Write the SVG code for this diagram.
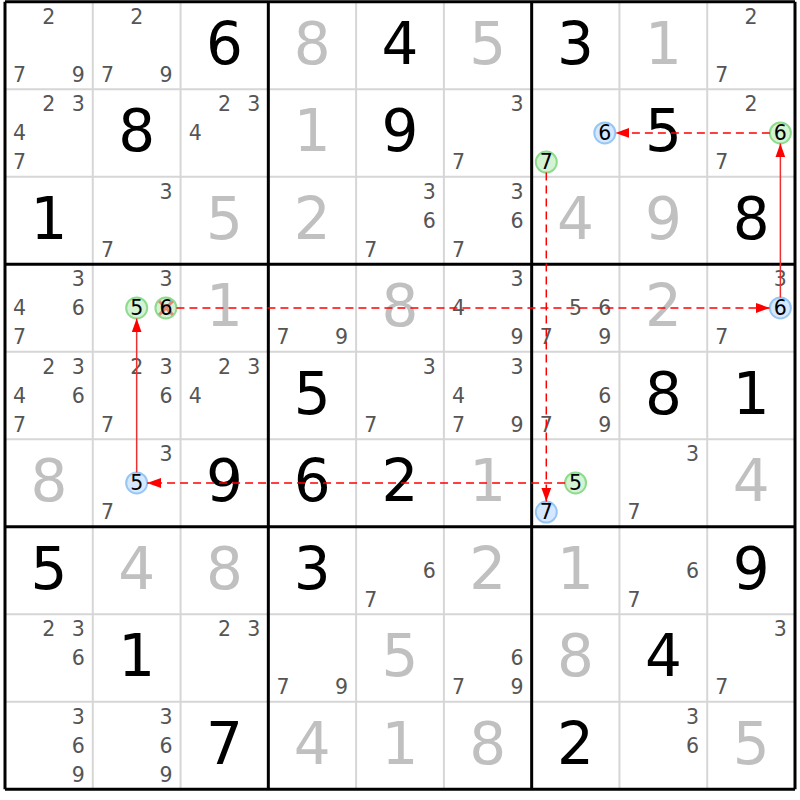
<svg xmlns="http://www.w3.org/2000/svg" width="800" height="800" viewBox="0 0 800 800">
<style>
text{font-family:"DejaVu Sans","Liberation Sans",sans-serif;text-anchor:middle}
.g{font-size:58px;fill:#000}
.p{font-size:58px;fill:#c0c0c0}
.c{font-size:20.5px;fill:#555}
.k{font-size:20.5px;fill:#000}
.thin{stroke:#d6d6d6;stroke-width:2}
.thick{stroke:#000;stroke-width:3}
.on{fill:#d3f3d3;stroke:#8edb8e;stroke-width:2}
.off{fill:#d5e8ff;stroke:#98c6f3;stroke-width:2}
.strong{stroke:#f03030;stroke-width:1.5;fill:none}
.weak{stroke:#ff0000;stroke-width:1.5;fill:none;stroke-dasharray:8 5}
</style>
<defs>
<marker id="ah" markerUnits="userSpaceOnUse" markerWidth="14" markerHeight="10" refX="14" refY="5" orient="auto">
<path d="M0,0 L14,5 L0,10 z" fill="#ff0000"/>
</marker>
</defs>
<rect width="800" height="800" fill="#fff"/>
<g id="grid">
<path class="thin" d="M92.78,1.7V789.2M180.56,1.7V789.2M356.11,1.7V789.2M443.89,1.7V789.2M619.44,1.7V789.2M707.22,1.7V789.2M5,89.2H795M5,176.7H795M5,351.7H795M5,439.2H795M5,614.2H795M5,701.7H795"/>
<path class="thick" d="M5,1.7V789.2M268.33,1.7V789.2M531.67,1.7V789.2M795,1.7V789.2M5,1.7H795M5,264.2H795M5,526.7H795M5,789.2H795"/>
</g>
<g id="r1">
<g id="r1c1"><text class="c" x="48.89" y="23.6">2</text><text class="c" x="19.63" y="81.9">7</text><text class="c" x="78.15" y="81.9">9</text></g>
<g id="r1c2"><text class="c" x="136.67" y="23.6">2</text><text class="c" x="107.41" y="81.9">7</text><text class="c" x="165.93" y="81.9">9</text></g>
<g id="r1c3"><text class="g" x="224.45" y="63.7">6</text></g>
<g id="r1c4"><text class="p" x="312.22" y="63.7">8</text></g>
<g id="r1c5"><text class="g" x="400" y="63.7">4</text></g>
<g id="r1c6"><text class="p" x="487.78" y="63.7">5</text></g>
<g id="r1c7"><text class="g" x="575.56" y="63.7">3</text></g>
<g id="r1c8"><text class="p" x="663.33" y="63.7">1</text></g>
<g id="r1c9"><text class="c" x="751.11" y="23.6">2</text><text class="c" x="721.85" y="81.9">7</text></g>
</g>
<g id="r2">
<g id="r2c1"><text class="c" x="48.89" y="111.1">2</text><text class="c" x="78.15" y="111.1">3</text><text class="c" x="19.63" y="140.3">4</text><text class="c" x="19.63" y="169.4">7</text></g>
<g id="r2c2"><text class="g" x="136.67" y="151.2">8</text></g>
<g id="r2c3"><text class="c" x="224.45" y="111.1">2</text><text class="c" x="253.71" y="111.1">3</text><text class="c" x="195.19" y="140.3">4</text></g>
<g id="r2c4"><text class="p" x="312.22" y="151.2">1</text></g>
<g id="r2c5"><text class="g" x="400" y="151.2">9</text></g>
<g id="r2c6"><text class="c" x="517.04" y="111.1">3</text><text class="c" x="458.52" y="169.4">7</text></g>
<g id="r2c7"><circle class="off" cx="604.82" cy="132.95" r="10.5"/><text class="k" x="604.82" y="140.3">6</text><circle class="on" cx="546.3" cy="162.12" r="10.5"/><text class="k" x="546.3" y="169.4">7</text></g>
<g id="r2c8"><text class="g" x="663.33" y="151.2">5</text></g>
<g id="r2c9"><text class="c" x="751.11" y="111.1">2</text><circle class="on" cx="780.37" cy="132.95" r="10.5"/><text class="k" x="780.37" y="140.3">6</text><text class="c" x="721.85" y="169.4">7</text></g>
</g>
<g id="r3">
<g id="r3c1"><text class="g" x="48.89" y="238.7">1</text></g>
<g id="r3c2"><text class="c" x="165.93" y="198.6">3</text><text class="c" x="107.41" y="256.9">7</text></g>
<g id="r3c3"><text class="p" x="224.45" y="238.7">5</text></g>
<g id="r3c4"><text class="p" x="312.22" y="238.7">2</text></g>
<g id="r3c5"><text class="c" x="429.26" y="198.6">3</text><text class="c" x="429.26" y="227.8">6</text><text class="c" x="370.74" y="256.9">7</text></g>
<g id="r3c6"><text class="c" x="517.04" y="198.6">3</text><text class="c" x="517.04" y="227.8">6</text><text class="c" x="458.52" y="256.9">7</text></g>
<g id="r3c7"><text class="p" x="575.56" y="238.7">4</text></g>
<g id="r3c8"><text class="p" x="663.33" y="238.7">9</text></g>
<g id="r3c9"><text class="g" x="751.11" y="238.7">8</text></g>
</g>
<g id="r4">
<g id="r4c1"><text class="c" x="78.15" y="286.1">3</text><text class="c" x="19.63" y="315.3">4</text><text class="c" x="78.15" y="315.3">6</text><text class="c" x="19.63" y="344.4">7</text></g>
<g id="r4c2"><text class="c" x="165.93" y="286.1">3</text><circle class="on" cx="136.67" cy="307.95" r="10.5"/><text class="k" x="136.67" y="315.3">5</text><circle class="on" cx="165.93" cy="307.95" r="10.5"/><path d="M159.2,301.2L172.7,314.7M172.7,301.2L159.2,314.7" stroke="#ff0000" stroke-opacity="0.45" stroke-width="3"/><text class="k" x="165.93" y="315.3">6</text></g>
<g id="r4c3"><text class="p" x="224.45" y="326.2">1</text></g>
<g id="r4c4"><text class="c" x="282.96" y="344.4">7</text><text class="c" x="341.48" y="344.4">9</text></g>
<g id="r4c5"><text class="p" x="400" y="326.2">8</text></g>
<g id="r4c6"><text class="c" x="517.04" y="286.1">3</text><text class="c" x="458.52" y="315.3">4</text><text class="c" x="517.04" y="344.4">9</text></g>
<g id="r4c7"><text class="c" x="575.56" y="315.3">5</text><text class="c" x="604.82" y="315.3">6</text><text class="c" x="546.3" y="344.4">7</text><text class="c" x="604.82" y="344.4">9</text></g>
<g id="r4c8"><text class="p" x="663.33" y="326.2">2</text></g>
<g id="r4c9"><text class="c" x="780.37" y="286.1">3</text><circle class="off" cx="780.37" cy="307.95" r="10.5"/><text class="k" x="780.37" y="315.3">6</text><text class="c" x="721.85" y="344.4">7</text></g>
</g>
<g id="r5">
<g id="r5c1"><text class="c" x="48.89" y="373.6">2</text><text class="c" x="78.15" y="373.6">3</text><text class="c" x="19.63" y="402.8">4</text><text class="c" x="78.15" y="402.8">6</text><text class="c" x="19.63" y="431.9">7</text></g>
<g id="r5c2"><text class="c" x="136.67" y="373.6">2</text><text class="c" x="165.93" y="373.6">3</text><text class="c" x="165.93" y="402.8">6</text><text class="c" x="107.41" y="431.9">7</text></g>
<g id="r5c3"><text class="c" x="224.45" y="373.6">2</text><text class="c" x="253.71" y="373.6">3</text><text class="c" x="195.19" y="402.8">4</text></g>
<g id="r5c4"><text class="g" x="312.22" y="413.7">5</text></g>
<g id="r5c5"><text class="c" x="429.26" y="373.6">3</text><text class="c" x="370.74" y="431.9">7</text></g>
<g id="r5c6"><text class="c" x="517.04" y="373.6">3</text><text class="c" x="458.52" y="402.8">4</text><text class="c" x="458.52" y="431.9">7</text><text class="c" x="517.04" y="431.9">9</text></g>
<g id="r5c7"><text class="c" x="604.82" y="402.8">6</text><text class="c" x="546.3" y="431.9">7</text><text class="c" x="604.82" y="431.9">9</text></g>
<g id="r5c8"><text class="g" x="663.33" y="413.7">8</text></g>
<g id="r5c9"><text class="g" x="751.11" y="413.7">1</text></g>
</g>
<g id="r6">
<g id="r6c1"><text class="p" x="48.89" y="501.2">8</text></g>
<g id="r6c2"><text class="c" x="165.93" y="461.1">3</text><circle class="off" cx="136.67" cy="482.95" r="10.5"/><text class="k" x="136.67" y="490.3">5</text><text class="c" x="107.41" y="519.4">7</text></g>
<g id="r6c3"><text class="g" x="224.45" y="501.2">9</text></g>
<g id="r6c4"><text class="g" x="312.22" y="501.2">6</text></g>
<g id="r6c5"><text class="g" x="400" y="501.2">2</text></g>
<g id="r6c6"><text class="p" x="487.78" y="501.2">1</text></g>
<g id="r6c7"><circle class="on" cx="575.56" cy="482.95" r="10.5"/><text class="k" x="575.56" y="490.3">5</text><circle class="off" cx="546.3" cy="512.12" r="10.5"/><text class="k" x="546.3" y="519.4">7</text></g>
<g id="r6c8"><text class="c" x="692.59" y="461.1">3</text><text class="c" x="634.07" y="519.4">7</text></g>
<g id="r6c9"><text class="p" x="751.11" y="501.2">4</text></g>
</g>
<g id="r7">
<g id="r7c1"><text class="g" x="48.89" y="588.7">5</text></g>
<g id="r7c2"><text class="p" x="136.67" y="588.7">4</text></g>
<g id="r7c3"><text class="p" x="224.45" y="588.7">8</text></g>
<g id="r7c4"><text class="g" x="312.22" y="588.7">3</text></g>
<g id="r7c5"><text class="c" x="429.26" y="577.8">6</text><text class="c" x="370.74" y="606.9">7</text></g>
<g id="r7c6"><text class="p" x="487.78" y="588.7">2</text></g>
<g id="r7c7"><text class="p" x="575.56" y="588.7">1</text></g>
<g id="r7c8"><text class="c" x="692.59" y="577.8">6</text><text class="c" x="634.07" y="606.9">7</text></g>
<g id="r7c9"><text class="g" x="751.11" y="588.7">9</text></g>
</g>
<g id="r8">
<g id="r8c1"><text class="c" x="48.89" y="636.1">2</text><text class="c" x="78.15" y="636.1">3</text><text class="c" x="78.15" y="665.3">6</text></g>
<g id="r8c2"><text class="g" x="136.67" y="676.2">1</text></g>
<g id="r8c3"><text class="c" x="224.45" y="636.1">2</text><text class="c" x="253.71" y="636.1">3</text></g>
<g id="r8c4"><text class="c" x="282.96" y="694.4">7</text><text class="c" x="341.48" y="694.4">9</text></g>
<g id="r8c5"><text class="p" x="400" y="676.2">5</text></g>
<g id="r8c6"><text class="c" x="517.04" y="665.3">6</text><text class="c" x="458.52" y="694.4">7</text><text class="c" x="517.04" y="694.4">9</text></g>
<g id="r8c7"><text class="p" x="575.56" y="676.2">8</text></g>
<g id="r8c8"><text class="g" x="663.33" y="676.2">4</text></g>
<g id="r8c9"><text class="c" x="780.37" y="636.1">3</text><text class="c" x="721.85" y="694.4">7</text></g>
</g>
<g id="r9">
<g id="r9c1"><text class="c" x="78.15" y="723.6">3</text><text class="c" x="78.15" y="752.8">6</text><text class="c" x="78.15" y="781.9">9</text></g>
<g id="r9c2"><text class="c" x="165.93" y="723.6">3</text><text class="c" x="165.93" y="752.8">6</text><text class="c" x="165.93" y="781.9">9</text></g>
<g id="r9c3"><text class="g" x="224.45" y="763.7">7</text></g>
<g id="r9c4"><text class="p" x="312.22" y="763.7">4</text></g>
<g id="r9c5"><text class="p" x="400" y="763.7">1</text></g>
<g id="r9c6"><text class="p" x="487.78" y="763.7">8</text></g>
<g id="r9c7"><text class="g" x="575.56" y="763.7">2</text></g>
<g id="r9c8"><text class="c" x="692.59" y="723.6">3</text><text class="c" x="692.59" y="752.8">6</text></g>
<g id="r9c9"><text class="p" x="751.11" y="763.7">5</text></g>
</g>
<g id="connectors">
<path class="strong" d="M780.37,297.45V143.45" marker-end="url(#ah)"/>
<path class="weak" d="M769.87,132.95H615.32" marker-end="url(#ah)"/>
<path class="weak" d="M546.3,172.62V501.62" marker-end="url(#ah)"/>
<path class="weak" d="M565.06,482.95H147.17" marker-end="url(#ah)"/>
<path class="strong" d="M136.67,472.45V318.45" marker-end="url(#ah)"/>
<path class="weak" d="M176.43,307.95H769.87" marker-end="url(#ah)"/>
</g>
</svg>
